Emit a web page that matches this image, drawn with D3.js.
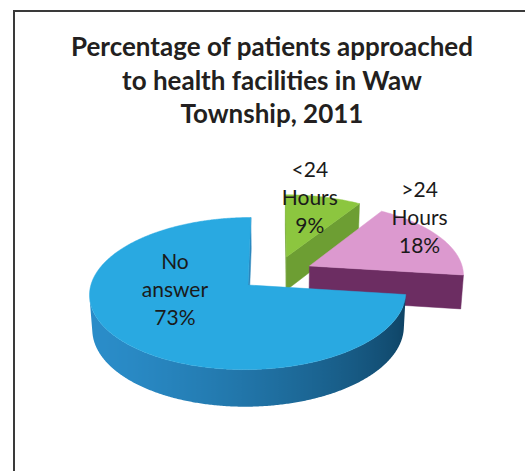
<!DOCTYPE html>
<html><head><meta charset="utf-8">
<script src="https://cdn.jsdelivr.net/npm/d3@7"></script>
<style>html,body{margin:0;padding:0;background:#fff;} svg{display:block}</style>
</head><body>
<script>
// ---- data ----
const categories = ["<24 Hours", ">24 Hours", "No answer"];
const labelLines = [["<24", "Hours"], [">24", "Hours"], ["No", "answer"]];
const values = [9, 18, 73];
const titleLines = ["Percentage of patients approached", "to health facilities in Waw", "Township, 2011"];

// ---- styles ----
const topColors = ["#8cc63f", "#dc99cf", "#29a9e1"];
const radialColors = ["#6d9e33", "#6c2d62", "#2a86bd"];
const wallLight = ["#78a93a", "#7a3570", "#2a8cc8"];
const wallDark = ["#557f26", "#55204c", "#0b3a58"];
// label placement within slice: [fraction of slice angle, radius factor]
const labelPlace = [[0.33, 0.96], [0.233, 1.08], [0.626, 0.465]];

const W = 525, H = 471;
const svg = d3.select("body").append("svg").attr("width", W).attr("height", H);
svg.append("rect").attr("width", W).attr("height", H).attr("fill", "#fff");
const defs = svg.append("defs");

// frame (left and top rules)
svg.append("path").attr("d", `M14,${H} L14,11 L${W},11`)
  .attr("fill", "none").attr("stroke", "#3a3a3a").attr("stroke-width", 2);

// title
svg.append("g").selectAll("text").data(titleLines).join("text")
  .attr("x", 272).attr("y", (d, i) => 56 + i * 33.5)
  .attr("text-anchor", "middle")
  .attr("font-family", "Lato, 'Open Sans', sans-serif")
  .attr("font-weight", "bold").attr("font-size", 26)
  .attr("fill", "#231f20").text(d => d);

// ---- 3D projection ----
const TH = 28 * Math.PI / 180, DIST = 8, FOC = 1235, OX = 276.3, OY = 273.3;
const DEPTH = 0.252, EXPL = 0.24;
const sinT = Math.sin(TH), cosT = Math.cos(TH);
const cam = [0, DIST * sinT, -DIST * cosT];
function proj(X, Y, Z) {
  const depth = DIST + Z * cosT - Y * sinT;
  const sy = Y * cosT + Z * sinT;
  return [OX + FOC * X / depth, OY - FOC * sy / depth];
}
function visible(P, n) {
  return (cam[0] - P[0]) * n[0] + (cam[1] - P[1]) * n[1] + (cam[2] - P[2]) * n[2] > 0;
}
const line = d3.line();

const arcs = d3.pie().sort(null).value(d => d)(values);
const slices = arcs.map((a, i) => {
  const mid = (a.startAngle + a.endAngle) / 2;
  return { i, a0: a.startAngle, a1: a.endAngle, mid,
    cx: EXPL * Math.sin(mid), cz: EXPL * Math.cos(mid) };
});
const order = slices.slice().sort((p, q) => q.cz - p.cz); // far first

const light = [-0.9, 0, -0.44];
const lightN = Math.hypot(...light);

const gPie = svg.append("g");
order.forEach(s => {
  const g = gPie.append("g");
  const pt = (a, r, Y) => [s.cx + r * Math.sin(a), Y, s.cz + r * Math.cos(a)];
  const P = p => proj(p[0], p[1], p[2]);
  // radial faces
  [[s.a0, [-Math.cos(s.a0), 0, Math.sin(s.a0)]], [s.a1, [Math.cos(s.a1), 0, -Math.sin(s.a1)]]]
    .forEach(([a, n]) => {
      const c = [s.cx, 0, s.cz];
      if (!visible(c, n)) return;
      const poly = [pt(a, 0, 0), pt(a, 1, 0), pt(a, 1, -DEPTH), pt(a, 0, -DEPTH)].map(P);
      g.append("path").attr("d", line(poly) + "Z")
        .attr("fill", radialColors[s.i]).attr("stroke", radialColors[s.i]).attr("stroke-width", 0.5);
    });
  // outer wall: contiguous visible runs, shaded with a horizontal gradient
  const steps = Math.max(4, Math.ceil((s.a1 - s.a0) / (Math.PI / 360)));
  const da = (s.a1 - s.a0) / steps;
  const col = d3.interpolateRgb(wallDark[s.i], wallLight[s.i]);
  const runs = [];
  let cur = null;
  for (let k = 0; k <= steps; k++) {
    const a = s.a0 + k * da;
    const n = [Math.sin(a), 0, Math.cos(a)];
    if (visible(pt(a, 1, 0), n)) { if (!cur) { cur = []; runs.push(cur); } cur.push(a); }
    else cur = null;
  }
  runs.forEach((run, ri) => {
    if (run.length < 2) return;
    const topPts = run.map(a => P(pt(a, 1, 0)));
    const botPts = run.map(a => P(pt(a, 1, -DEPTH))).reverse();
    const xs = topPts.map(p => p[0]);
    const x0 = d3.min(xs), x1 = d3.max(xs);
    const id = `wall${s.i}_${ri}`;
    const grad = defs.append("linearGradient").attr("id", id)
      .attr("gradientUnits", "userSpaceOnUse")
      .attr("x1", x0).attr("x2", x1).attr("y1", 0).attr("y2", 0);
    const stops = run.map((a, j) => {
      const t = (Math.sin(a) * light[0] + Math.cos(a) * light[2]) / lightN;
      return { off: x1 > x0 ? (xs[j] - x0) / (x1 - x0) : 0, c: col((t + 1) / 2) };
    }).sort((p, q) => p.off - q.off);
    grad.selectAll("stop").data(stops).join("stop")
      .attr("offset", d => d.off).attr("stop-color", d => d.c);
    g.append("path").attr("d", line(topPts.concat(botPts)) + "Z")
      .attr("fill", `url(#${id})`);
  });
  // top face
  const top = [pt(0, 0, 0)];
  for (let k = 0; k <= steps; k++) top.push(pt(s.a0 + k * da, 1, 0));
  g.append("path").attr("d", line(top.map(P)) + "Z")
    .attr("fill", topColors[s.i]).attr("stroke", topColors[s.i]).attr("stroke-width", 0.5);
});

// labels
const gLab = svg.append("g")
  .attr("font-family", "Lato, 'Open Sans', sans-serif")
  .attr("font-size", 21).attr("fill", "#1a1a1a").attr("text-anchor", "middle");
slices.forEach(s => {
  const [f, r] = labelPlace[s.i];
  const a = s.a0 + f * (s.a1 - s.a0);
  const [x, y] = proj(s.cx + r * Math.sin(a), 0, s.cz + r * Math.cos(a));
  const lines = [...labelLines[s.i], values[s.i] + "%"];
  lines.forEach((t, j) => {
    gLab.append("text").attr("x", x).attr("y", y + 7 + (j - 1) * 28).text(t);
  });
});
</script>
</body></html>
